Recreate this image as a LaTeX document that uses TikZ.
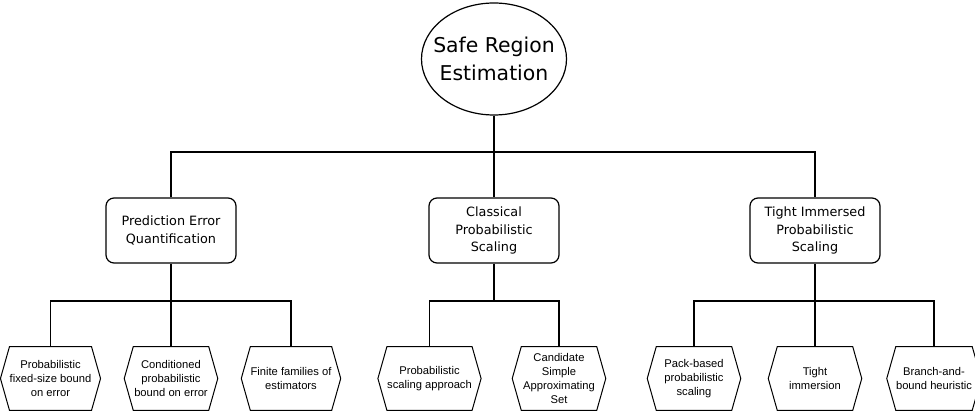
\documentclass[tikz,border=0pt]{standalone}
\usepackage{fontspec}
\newfontfamily\titlefont{DejaVu Sans}
\newfontfamily\leaffont{Liberation Sans}
\usetikzlibrary{shapes.geometric}

% one drawing unit is 0.75pt
\tikzset{
  link/.style={draw=black, line width=0.9pt},
  rootnode/.style={ellipse, draw=black, line width=0.9pt, minimum width=108.75pt, minimum height=84pt,
    inner xsep=-8pt, inner ysep=0pt, align=center, font=\titlefont\fontsize{15.3}{20.5}\selectfont},
  methodbox/.style={rectangle, rounded corners=6pt, draw=black, line width=0.9pt,
    minimum width=97.5pt, minimum height=48.75pt, inner sep=0pt, align=center,
    font=\titlefont\fontsize{9.6}{13.3}\selectfont},
  leafhex/.style={rectangle, minimum width=56.25pt, minimum height=47.25pt, inner sep=0pt,
    align=center, font=\leaffont\fontsize{8.4}{10.3}\selectfont},
}

\begin{document}
\begin{tikzpicture}[x=0.75pt, y=-0.75pt]
  \useasboundingbox (0,0) rectangle (975,413);

  % root
  \node[rootnode] (root) at (494,59) {Safe Region\\Estimation};

  % second level
  \node[methodbox] (peq) at (171,230.5) {Prediction Error\\Quantification};
  \node[methodbox] (cps) at (494,230.5) {Classical\\Probabilistic\\Scaling};
  \node[methodbox] (tips) at (815,230.5) {Tight Immersed\\Probabilistic\\Scaling};

  % leaves
  \node[leafhex] (l1) at (50.5,378.5) {Probabilistic\\fixed-size bound\\on error};
  \node[leafhex] (l2) at (171,378.5) {Conditioned\\probabilistic\\bound on error};
  \node[leafhex] (l3) at (291,378.5) {Finite families of\\estimators};
  \node[leafhex] (l4) at (429.5,378.5) {Probabilistic\\scaling approach};
  \node[leafhex] (l5) at (559,378.5) {Candidate\\Simple\\Approximating\\Set};
  \node[leafhex] (l6) at (694,378.5) {Pack-based\\probabilistic\\scaling};
  \node[leafhex] (l7) at (815,378.5) {Tight\\immersion};
  \node[leafhex] (l8) at (934,378.5) {Branch-and-\\bound heuristic};

  % hexagonal outlines of the leaves
  \foreach \n in {l1,l2,l3,l4,l5,l6,l7,l8}{
    \draw[black, line width=0.75pt] (\n.north west) -- (\n.north east) -- ([xshift=6.75pt]\n.east)
      -- (\n.south east) -- (\n.south west) -- ([xshift=-6.75pt]\n.west) -- cycle;
  }

  % bus lines
  \coordinate (bus0) at (494,152);
  \coordinate (busl) at (171,301);
  \coordinate (busm) at (494,301);
  \coordinate (busr) at (815,301);

  % root to second level
  \draw[link] (root.south) -- (cps.north);
  \draw[link] (peq.north) -- (peq.north |- bus0) -- (tips.north |- bus0) -- (tips.north);

  % second level to leaves
  \draw[link] (peq.south) -- (l2.north);
  \draw[link] (l1.north) -- (l1.north |- busl) -- (l3.north |- busl) -- (l3.north);

  \draw[link] (cps.south) -- (busm);
  \draw[link] (l4.north) -- (l4.north |- busm) -- (l5.north |- busm) -- (l5.north);

  \draw[link] (tips.south) -- (l7.north);
  \draw[link] (l6.north) -- (l6.north |- busr) -- (l8.north |- busr) -- (l8.north);
\end{tikzpicture}
\end{document}
